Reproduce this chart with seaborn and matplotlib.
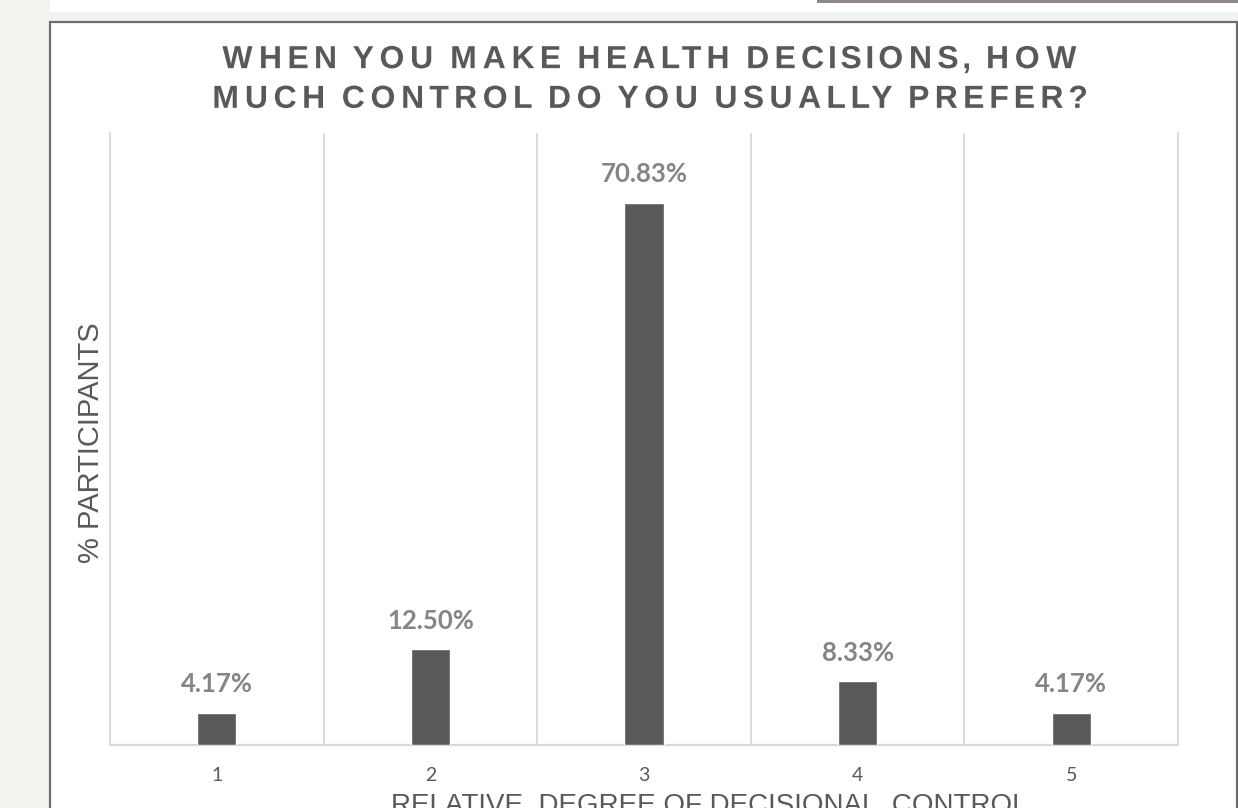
import matplotlib
matplotlib.use("Agg")
import numpy as np
import matplotlib.pyplot as plt
from matplotlib.patches import Rectangle
from matplotlib.patheffects import AbstractPathEffect
from matplotlib.path import Path
from matplotlib.transforms import IdentityTransform
import seaborn as sns
import pandas as pd

# ---- data ----
categories = ["1", "2", "3", "4", "5"]
percentages = [4.17, 12.50, 70.83, 8.33, 4.17]
value_labels = ["4.17%", "12.50%", "70.83%", "8.33%", "4.17%"]
title_lines = "WHEN YOU MAKE HEALTH DECISIONS, HOW\nMUCH CONTROL DO YOU USUALLY PREFER?"
x_title = "RELATIVE  DEGREE OF DECISIONAL  CONTROL"
y_title = "% PARTICIPANTS"

df = pd.DataFrame({"degree": categories, "pct": percentages})


class Tracking(AbstractPathEffect):
    """Letter-spacing effect: spreads glyph outlines apart about the text centre."""

    def __init__(self, k):
        super().__init__()
        self.k = k

    def draw_path(self, renderer, gc, tpath, affine, rgbFace=None):
        path = affine.transform_path(tpath)
        verts = np.array(path.vertices, dtype=float)
        codes = path.codes
        if codes is None:
            renderer.draw_path(gc, path, IdentityTransform(), rgbFace)
            return
        valid = codes != Path.CLOSEPOLY
        if not valid.any():
            return
        xs = verts[valid, 0]
        cx_all = (xs.min() + xs.max()) / 2
        starts = np.where(codes == Path.MOVETO)[0]
        ends = list(starts[1:]) + [len(codes)]
        for s, e in zip(starts, ends):
            m = valid[s:e]
            seg = verts[s:e, 0][m]
            if seg.size == 0:
                continue
            c = (seg.min() + seg.max()) / 2
            verts[s:e, 0] += self.k * (c - cx_all)
        renderer.draw_path(gc, Path(verts, codes), IdentityTransform(), rgbFace)


sns.set_theme(style="white")
plt.rcParams["font.family"] = ["Liberation Sans", "DejaVu Sans"]

W, H = 1238, 808
fig = plt.figure(figsize=(W / 100, H / 100), dpi=100, facecolor="#f2f2ee")

# page decorations (slide background)
fig.add_artist(Rectangle((50 / W, (H - 12) / H), (W - 50) / W, 12 / H,
                         transform=fig.transFigure, facecolor="white",
                         edgecolor="none", zorder=0))
fig.add_artist(Rectangle((817 / W, (H - 3) / H), (W - 817) / W, 3 / H,
                         transform=fig.transFigure, facecolor="#8e868b",
                         edgecolor="none", zorder=0))
fig.add_artist(Rectangle((49.5 / W, -0.01), (1236.5 - 49.5) / W, (H - 21.5) / H + 0.01,
                         transform=fig.transFigure, facecolor="white",
                         edgecolor="#6e6e6e", linewidth=1.6, zorder=0))

ax = fig.add_axes([110 / W, (H - 745) / H, (1178 - 110) / W, (745 - 133) / H])
ax.set_facecolor("none")

sns.barplot(data=df, x="degree", y="pct", color="#595959", saturation=1,
            width=0.183, ax=ax, zorder=3)

ax.set_ylim(0, 80)
ax.set_xlim(-0.5, 4.5)
ax.set_yticks([])
ax.set_xlabel("")
ax.set_ylabel("")

ax.set_xticks([0.5, 1.5, 2.5, 3.5], minor=True)
ax.grid(which="minor", axis="x", color="#d9d9d9", linewidth=1.3)
ax.grid(which="major", visible=False)
ax.tick_params(axis="x", which="both", length=0)
ax.tick_params(axis="x", which="major", pad=16, labelsize=14, labelcolor="#595959")
for lab in ax.get_xticklabels():
    lab.set_fontfamily(["Lato", "DejaVu Sans"])

for side in ["left", "right"]:
    ax.spines[side].set_color("#d9d9d9")
    ax.spines[side].set_linewidth(1.3)
ax.spines["bottom"].set_color("#d9d9d9")
ax.spines["bottom"].set_linewidth(1.6)
ax.spines["top"].set_visible(False)

ax.bar_label(ax.containers[0], labels=value_labels, padding=12,
             fontsize=18.5, fontweight="bold", color="#858585",
             family=["Lato", "DejaVu Sans"])

# titles
fig.text(650 / W, (H - 80) / H, title_lines, ha="center", va="center",
         fontsize=23, fontweight="bold", color="#595959", linespacing=1.42,
         path_effects=[Tracking(0.24)])
fig.text(91 / W, (H - 443) / H, y_title, rotation=90, ha="center", va="center",
         fontsize=21, color="#595959")
fig.text(709 / W, -5 / H, x_title, ha="center", va="baseline",
         fontsize=20, color="#595959")

fig.savefig("out.png", dpi=100, facecolor=fig.get_facecolor())
